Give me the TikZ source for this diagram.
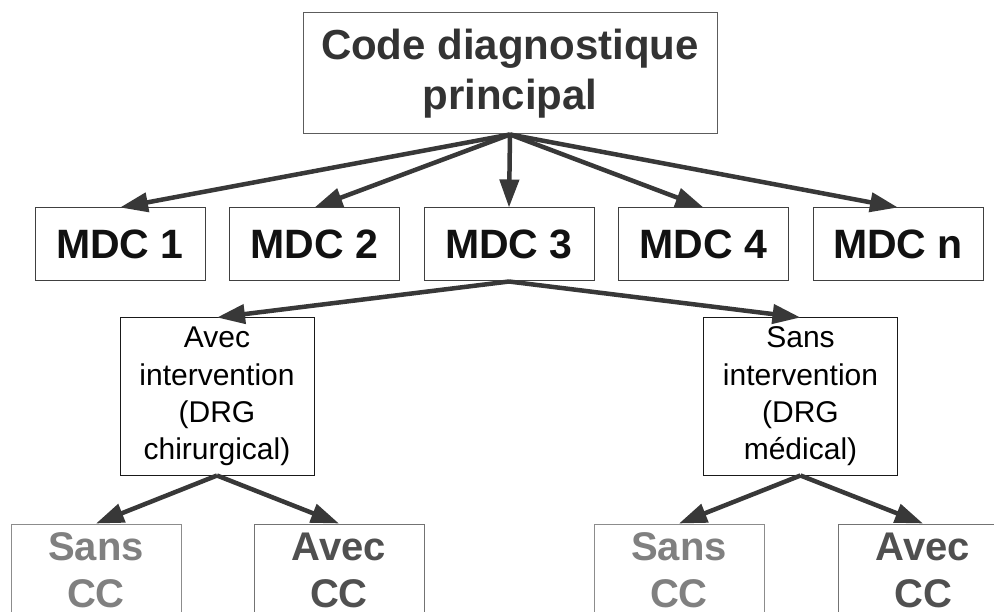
\documentclass[tikz,border=0pt]{standalone}
\usepackage{fontspec}
\setmainfont{Liberation Sans}
\usetikzlibrary{arrows.meta}
\definecolor{arrowcol}{HTML}{383838}
\definecolor{topcol}{HTML}{333333}
\definecolor{mdccol}{HTML}{111111}
\definecolor{sanscol}{HTML}{808080}
\definecolor{aveccol}{HTML}{505050}
\tikzset{
  box/.style={draw, line width=1pt, inner sep=0pt, align=center},
  topbox/.style={box, draw=topcol!80!white, text=topcol, minimum width=414pt, minimum height=121pt,
    font=\fontsize{42}{50}\selectfont\bfseries},
  mdcbox/.style={box, draw=black!75, text=mdccol, minimum width=170pt, minimum height=73pt,
    font=\fontsize{41}{49}\selectfont\bfseries},
  intbox/.style={box, draw=black!90, text=black, minimum width=194pt, minimum height=157pt,
    font=\fontsize{30}{37.3}\selectfont},
  sansbox/.style={box, draw=black!45, text=sanscol, minimum width=170pt, minimum height=92pt,
    font=\fontsize{40}{47}\selectfont\bfseries},
  avecbox/.style={box, draw=black!55, text=aveccol, minimum width=170pt, minimum height=92pt,
    font=\fontsize{40}{47}\selectfont\bfseries},
  arr/.style={draw=arrowcol, line width=4.5pt, -{Triangle[length=28pt,width=19pt]}, color=arrowcol},
}
\begin{document}
\begin{tikzpicture}[x=1pt,y=-1pt]
\useasboundingbox (0,0) rectangle (994,612);
\clip (0,0) rectangle (994,612);
\fill[white] (0,0) rectangle (994,612);

\node[topbox] (top) at (510,73.5) {Code diagnostique\\principal};

\node[mdcbox] (m1) at (120,244.5) {MDC 1};
\node[mdcbox] (m2) at (314.5,244.5) {MDC 2};
\node[mdcbox] (m3) at (509,244.5) {MDC 3};
\node[mdcbox] (m4) at (703.5,244.5) {MDC 4};
\node[mdcbox] (mn) at (898,244.5) {MDC n};

\node[intbox] (avec) at (217,396.5) {Avec\\intervention\\(DRG\\chirurgical)};
\node[intbox] (sans) at (800.5,396.5) {Sans\\intervention\\(DRG\\médical)};

\node[sansbox] (s1) at (96,570) {Sans\\CC};
\node[avecbox] (a1) at (339,570) {Avec\\CC};
\node[sansbox] (s2) at (679,570) {Sans\\CC};
\node[avecbox] (a2) at (923,570) {Avec\\CC};

\foreach \t in {m1,m2,m3,m4,mn} \draw[arr] (top.south) -- (\t.north);
\draw[arr] (m3.south) -- (avec.north);
\draw[arr] (m3.south) -- (sans.north);
\draw[arr] (avec.south) -- (s1.north);
\draw[arr] (avec.south) -- (a1.north);
\draw[arr] (sans.south) -- (s2.north);
\draw[arr] (sans.south) -- (a2.north);
\end{tikzpicture}
\end{document}
